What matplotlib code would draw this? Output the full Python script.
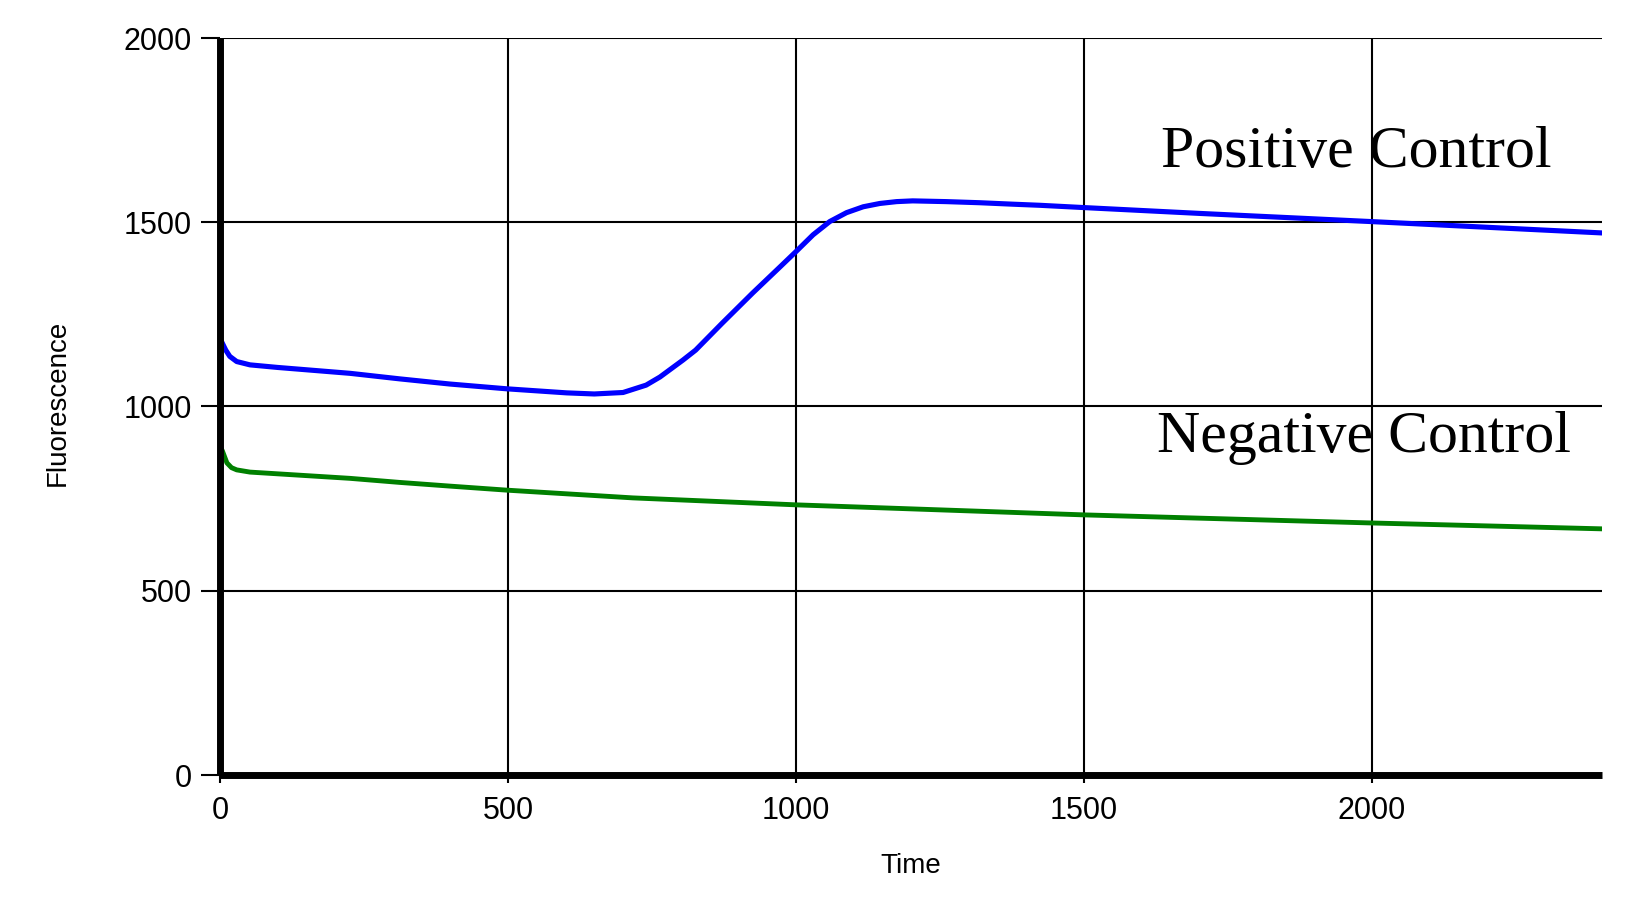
import matplotlib
matplotlib.use('Agg')
import matplotlib.pyplot as plt

# Values
pos_time = [0, 4, 10, 17, 29, 52, 100, 226, 312, 399, 498, 602, 650, 700, 740, 764, 804,
            826, 872, 925, 972, 1000, 1030, 1059, 1088, 1117, 1146, 1175, 1203, 1261,
            1319, 1377, 1424, 1498, 1701, 1997, 2400]
pos_fluor = [1185, 1172, 1153, 1136, 1122, 1113, 1106, 1090, 1075, 1061, 1048, 1037, 1034,
             1038, 1058, 1080, 1126, 1153, 1226, 1308, 1378, 1420, 1466, 1502, 1526, 1542,
             1551, 1556, 1558, 1556, 1553, 1549, 1546, 1540, 1524, 1502, 1471]

neg_time = [0, 4, 12, 20, 29, 52, 226, 312, 399, 498, 717, 1002, 1498, 1701, 1998, 2400]
neg_fluor = [892, 880, 847, 834, 828, 822, 805, 794, 784, 773, 752, 733, 706, 697, 684, 668]

x_ticks = [0, 500, 1000, 1500, 2000]
y_ticks = [0, 500, 1000, 1500, 2000]

plt.rcParams['font.family'] = ['Liberation Sans', 'DejaVu Sans']

fig = plt.figure(figsize=(16.5, 8.97), dpi=100)
ax = fig.add_axes([220 / 1650, 1 - 775 / 897, 1382 / 1650, 737 / 897])

ax.plot(pos_time, pos_fluor, color='#0000ff', linewidth=3.7, solid_capstyle='round',
        solid_joinstyle='round', zorder=3)
ax.plot(neg_time, neg_fluor, color='#008000', linewidth=3.5, solid_capstyle='round',
        solid_joinstyle='round', zorder=3)

ax.set_xlim(0, 2400)
ax.set_ylim(0, 2000)
ax.set_xticks(x_ticks)
ax.set_yticks(y_ticks)
ax.grid(True, color='black', linewidth=1.5)
ax.set_axisbelow(True)

for s in ['top', 'right']:
    ax.spines[s].set_visible(False)
for s in ['left', 'bottom']:
    ax.spines[s].set_linewidth(5)
    ax.spines[s].set_capstyle('butt')
    ax.spines[s].set_zorder(4)

ax.tick_params(axis='y', length=14, width=1.5, pad=6, labelsize=22)
ax.tick_params(axis='x', length=6, width=1.5, pad=9, labelsize=22)

ax.set_xlabel('Time', fontsize=20)
ax.xaxis.set_label_coords(0.5, -0.106)
ax.set_ylabel('Fluorescence', fontsize=20)
ax.yaxis.set_label_coords(-0.108, 0.505)

ax.text(1634, 1650, 'Positive Control', family=['Liberation Serif', 'DejaVu Serif'],
        fontsize=43, va='baseline', ha='left')
ax.text(1628, 877, 'Negative Control', family=['Liberation Serif', 'DejaVu Serif'],
        fontsize=43, va='baseline', ha='left')

fig.savefig('out.png', dpi=100)
